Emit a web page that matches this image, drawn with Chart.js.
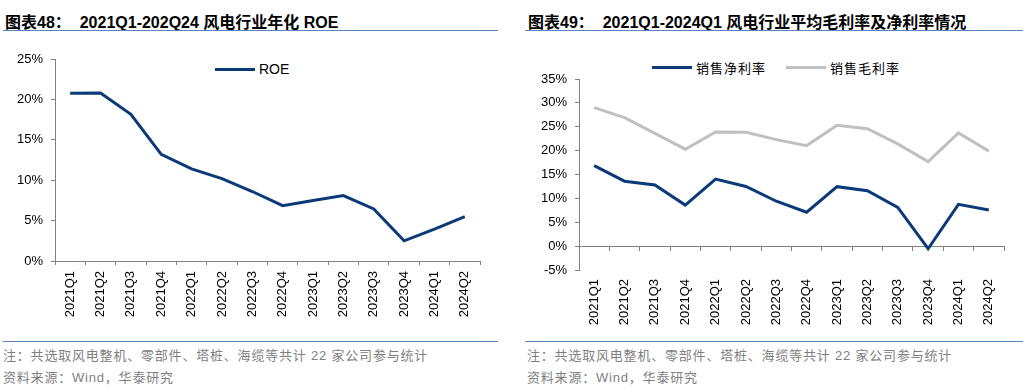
<!DOCTYPE html>
<html>
<head>
<meta charset="utf-8">
<script src="https://cdn.jsdelivr.net/npm/chart.js@4/dist/chart.umd.min.js"></script>
<style>
    body { margin: 0; width: 1023px; height: 391px; background: #fff; position: relative; overflow: hidden;
           font-family: "Liberation Sans", Arial, "Noto Sans CJK SC", sans-serif; }
    .title { position: absolute; top: 9px; font-size: 16px; font-weight: bold; color: #000; white-space: nowrap; }
    .rule { position: absolute; height: 0; border-top: 1.5px solid #5b84b8; }
    .note { position: absolute; font-size: 13px; color: #7f7f7f; white-space: nowrap; letter-spacing: 0.8px; }
    .legend { position: absolute; font-size: 14px; color: #000; white-space: nowrap; display: flex; align-items: center; }
    .legend .sw { display: inline-block; width: 40px; height: 3px; margin-right: 4px; }
    .legend .cjk { font-family: "Noto Sans CJK SC", sans-serif; font-size: 13px; letter-spacing: 1px; }
    canvas { position: absolute; }
</style>
</head>
<body>
<div class="title" style="left:5px">图表48：&nbsp;&nbsp;2021Q1-202Q24 风电行业年化 ROE</div>
<div class="title" style="left:528px">图表49：&nbsp;&nbsp;2021Q1-2024Q1 风电行业平均毛利率及净利率情况</div>
<div class="rule" style="left:3px; width:495px; top:30px"></div>
<div class="rule" style="left:525px; width:498px; top:30px"></div>

<div class="legend" style="left:215px; top:61px"><span class="sw" style="background:#0c3a78"></span>ROE</div>
<div class="legend" style="left:652px; top:58px">
    <span class="sw" style="background:#0c3a78"></span><span class="cjk">销售净利率</span>
    <span class="sw" style="background:#c0c0c0; margin-left:20px"></span><span class="cjk">销售毛利率</span>
</div>

<canvas id="chart-roe"></canvas>
<canvas id="chart-margin"></canvas>

<div class="rule" style="left:3px; width:495px; top:341px"></div>
<div class="rule" style="left:525px; width:498px; top:341px"></div>
<div class="note" style="left:3px; top:345px">注：共选取风电整机、零部件、塔桩、海缆等共计 22 家公司参与统计</div>
<div class="note" style="left:3px; top:367px">资料来源：Wind，华泰研究</div>
<div class="note" style="left:527px; top:345px">注：共选取风电整机、零部件、塔桩、海缆等共计 22 家公司参与统计</div>
<div class="note" style="left:527px; top:367px">资料来源：Wind，华泰研究</div>

<script>
const quarters = ['2021Q1', '2021Q2', '2021Q3', '2021Q4', '2022Q1', '2022Q2', '2022Q3', '2022Q4',
                  '2023Q1', '2023Q2', '2023Q3', '2023Q4', '2024Q1', '2024Q2'];
const roe = [20.75, 20.8, 18.15, 13.2, 11.4, 10.2, 8.6, 6.85, 7.5, 8.1, 6.45, 2.5, 3.95, 5.5];
const netMargin = [16.85, 13.6, 12.8, 8.6, 14.05, 12.5, 9.4, 7.1, 12.45, 11.6, 8.1, -0.55, 8.75, 7.55];
const grossMargin = [29.0, 26.9, 23.6, 20.3, 23.9, 23.85, 22.3, 21.05, 25.3, 24.6, 21.4, 17.7, 23.7, 19.9];

const NAVY = '#0c3a78';
const GRAY = '#c0c0c0';
const AXIS = '#808080';
const tickFont = { family: '"Liberation Sans", Arial, sans-serif', size: 13 };

Chart.defaults.animation = false;
Chart.defaults.color = '#000';

function placeCanvas(id, left, top, width, height) {
    const el = document.getElementById(id);
    el.style.left = left + 'px';
    el.style.top = top + 'px';
    el.width = width;
    el.height = height;
    el.style.width = width + 'px';
    el.style.height = height + 'px';
    return el;
}

function lineSet(label, data, color, axisId) {
    return { label, data, borderColor: color, backgroundColor: color, borderWidth: 3,
             pointRadius: 0, tension: 0, fill: false, xAxisID: axisId || 'x' };
}

function yAxis(min, max, width) {
    return {
        min, max,
        afterFit: s => { s.width = width; },
        ticks: { stepSize: 5, font: tickFont, padding: 8, callback: v => v + '%' },
        grid: { drawOnChartArea: false, drawTicks: true, tickLength: 4, color: AXIS },
        border: { display: true, color: AXIS, width: 1 }
    };
}

// 左图：ROE
new Chart(placeCanvas('chart-roe', 0, 39, 500, 300), {
    type: 'line',
    data: { labels: quarters, datasets: [lineSet('ROE', roe, NAVY)] },
    options: {
        responsive: false,
        layout: { padding: { top: 20, right: 20, left: 0, bottom: 0 } },
        plugins: { legend: { display: false }, tooltip: { enabled: false } },
        scales: {
            x: {
                offset: true,
                afterFit: s => { s.height = 78; },
                ticks: { font: tickFont, minRotation: 90, maxRotation: 90, padding: 6, autoSkip: false },
                grid: { offset: true, drawOnChartArea: false, drawTicks: true, tickLength: 4, color: AXIS },
                border: { display: true, color: AXIS, width: 1 }
            },
            y: yAxis(0, 25, 55)
        }
    }
});

// 右图：毛利率 / 净利率
new Chart(placeCanvas('chart-margin', 520, 59, 503, 280), {
    type: 'line',
    data: {
        labels: quarters,
        datasets: [
            lineSet('销售净利率', netMargin, NAVY),
            lineSet('销售毛利率', grossMargin, GRAY)
        ]
    },
    options: {
        responsive: false,
        layout: { padding: { top: 20, right: 19, left: 0, bottom: 0 } },
        plugins: { legend: { display: false }, tooltip: { enabled: false } },
        scales: {
            x: {
                offset: true,
                afterFit: s => { s.height = 69; },
                ticks: { font: tickFont, minRotation: 90, maxRotation: 90, padding: 9, autoSkip: false },
                grid: { display: false, drawTicks: false },
                border: { display: false }
            },
            x0: {
                type: 'category',
                position: { y: 0 },
                offset: true,
                ticks: { display: false },
                grid: { offset: true, drawOnChartArea: false, drawTicks: true, tickLength: 4, color: AXIS },
                border: { display: true, color: AXIS, width: 1 }
            },
            y: yAxis(-5, 35, 59)
        }
    }
});
</script>
</body>
</html>
